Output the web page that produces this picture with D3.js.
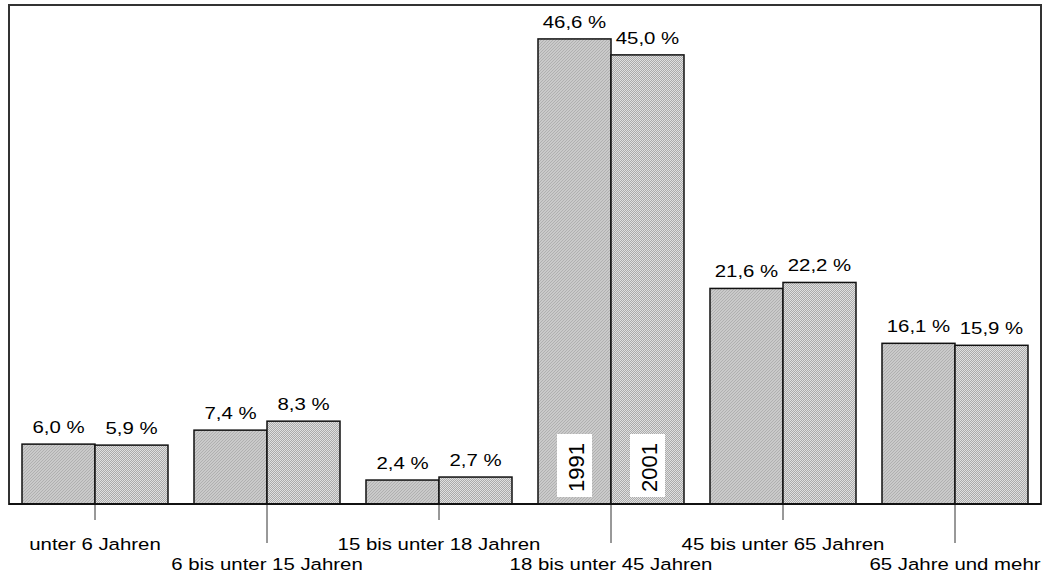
<!DOCTYPE html>
<html>
<head>
<meta charset="utf-8">
<script src="https://cdn.jsdelivr.net/npm/d3@7"></script>
<style>
  html, body { margin: 0; padding: 0; background: #fff; }
  svg { display: block; font-family: "Liberation Sans", Arial, sans-serif; }
</style>
</head>
<body>
<svg id="chart" width="1052" height="581"></svg>
<script>
// Age groups and population shares (%) for the two census years
const categories = ["unter 6 Jahren", "6 bis unter 15 Jahren", "15 bis unter 18 Jahren",
                    "18 bis unter 45 Jahren", "45 bis unter 65 Jahren", "65 Jahre und mehr"];
const years = ["1991", "2001"];
const values1991 = [6.0, 7.4, 2.4, 46.6, 21.6, 16.1];
const values2001 = [5.9, 8.3, 2.7, 45.0, 22.2, 15.9];
const series = [values1991, values2001];

const svg = d3.select("#chart");
const margin = { left: 9, top: 5, right: 11, bottom: 77 };
const W = 1052, H = 581;
const x0 = margin.left, x1 = W - margin.right;
const y0 = margin.top, y1 = H - margin.bottom;
const fontSize = 17, stretch = 1.2;

// Dithered fills for the bars
const defs = svg.append("defs");
const p1 = defs.append("pattern").attr("id", "fill1991")
  .attr("patternUnits", "userSpaceOnUse").attr("width", 3).attr("height", 3);
p1.append("rect").attr("width", 3).attr("height", 3).attr("fill", "#cacaca");
[[0, 2], [1, 1], [2, 0]].forEach(([px, py]) =>
  p1.append("rect").attr("x", px).attr("y", py).attr("width", 1).attr("height", 1).attr("fill", "#b0b0b0"));
const p2 = defs.append("pattern").attr("id", "fill2001")
  .attr("patternUnits", "userSpaceOnUse").attr("width", 2).attr("height", 2);
p2.append("rect").attr("width", 2).attr("height", 2).attr("fill", "#e0e0e0");
p2.append("rect").attr("width", 1).attr("height", 1).attr("fill", "#ababab");
p2.append("rect").attr("x", 1).attr("y", 1).attr("width", 1).attr("height", 1).attr("fill", "#ababab");
const fills = ["url(#fill1991)", "url(#fill2001)"];

const x = d3.scaleBand().domain(categories).range([x0, x1]).paddingInner(0).paddingOuter(0);
const barW = 73;
const y = d3.scaleLinear().domain([0, 50]).range([y1, y0]);

// Plot frame
svg.append("rect")
  .attr("x", x0).attr("y", y0).attr("width", x1 - x0).attr("height", y1 - y0)
  .attr("fill", "none").attr("stroke", "#333").attr("stroke-width", 2);

const groups = svg.append("g").selectAll("g").data(categories).join("g")
  .attr("transform", d => `translate(${x(d) + x.bandwidth() / 2},0)`);

const fmt = v => d3.format(".1f")(v).replace(".", ",") + " %";

series.forEach((vals, s) => {
  groups.append("rect")
    .attr("x", s === 0 ? -barW : 0)
    .attr("width", barW)
    .attr("y", (d, i) => y(vals[i]))
    .attr("height", (d, i) => y(0) - y(vals[i]))
    .attr("fill", fills[s])
    .attr("stroke", "#111").attr("stroke-width", 1.5);

  groups.append("text")
    .attr("transform", (d, i) => `translate(${s === 0 ? -barW / 2 : barW / 2},${y(vals[i]) - 11}) scale(${stretch},1)`)
    .attr("text-anchor", "middle")
    .attr("font-size", fontSize)
    .attr("fill", "#000")
    .text((d, i) => fmt(vals[i]));
});

// Baseline
svg.append("line").attr("x1", x0).attr("x2", x1).attr("y1", y1).attr("y2", y1)
  .attr("stroke", "#111").attr("stroke-width", 2);

// Category ticks and staggered labels
groups.append("line")
  .attr("x1", 0).attr("x2", 0).attr("y1", y1)
  .attr("y2", (d, i) => i % 2 === 0 ? y1 + 16 : y1 + 39)
  .attr("stroke", "#333").attr("stroke-width", 1);
groups.append("text")
  .attr("transform", (d, i) => `translate(0,${i % 2 === 0 ? y1 + 46 : y1 + 66}) scale(${stretch},1)`)
  .attr("text-anchor", "middle")
  .attr("font-size", fontSize)
  .attr("fill", "#000")
  .text(d => d);

// Year legend inside the tallest group
const legendCat = categories[3];
const lg = svg.append("g").attr("transform", `translate(${x(legendCat) + x.bandwidth() / 2},0)`);
years.forEach((yr, s) => {
  const cx = s === 0 ? -barW / 2 : barW / 2;
  lg.append("rect")
    .attr("x", cx - 17.5).attr("y", 434).attr("width", 35).attr("height", 63)
    .attr("fill", "#fff");
  lg.append("text")
    .attr("transform", `translate(${cx + 9},467.5) rotate(-90)`)
    .attr("text-anchor", "middle")
    .attr("font-size", 22)
    .attr("fill", "#000")
    .text(yr);
});
</script>
</body>
</html>
